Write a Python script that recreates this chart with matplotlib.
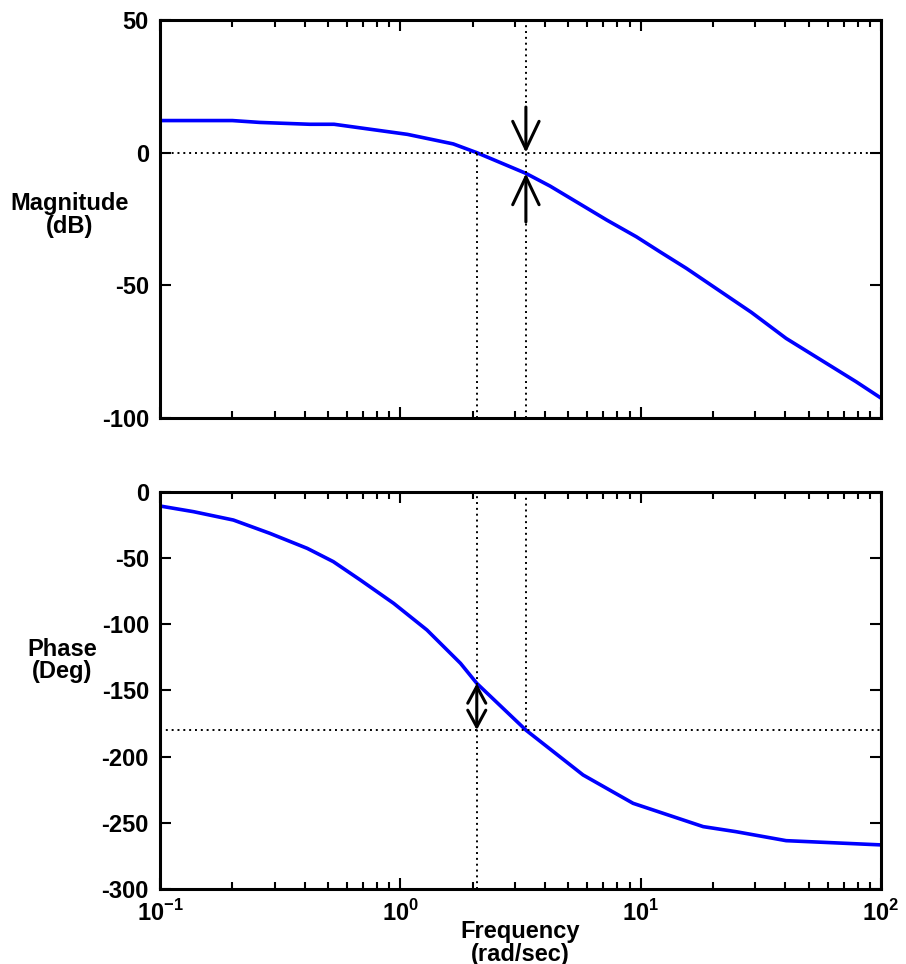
import matplotlib.pyplot as plt
from matplotlib.ticker import LogLocator, NullFormatter, FixedLocator

plt.rcParams['font.family'] = 'Liberation Sans'
plt.rcParams['font.weight'] = 'bold'
plt.rcParams['axes.unicode_minus'] = False
plt.rcParams['mathtext.fontset'] = 'custom'
plt.rcParams['mathtext.rm'] = 'Liberation Sans:bold'
plt.rcParams['mathtext.bf'] = 'Liberation Sans:bold'

# Magnitude curve
mag_freq = [0.1, 0.2, 0.26, 0.42, 0.53, 1.07, 1.66, 2.08, 3.33, 4.2, 7.23, 9.6,
            12.0, 15.5, 28.9, 40.3, 78.7, 100]
mag_db = [12.1, 12.1, 11.4, 10.7, 10.7, 6.9, 3.3, 0.0, -7.8, -12.6, -25.4, -31.7,
          -37.3, -43.6, -60.2, -70.0, -86.3, -92.5]

# Phase curve
ph_freq = [0.1, 0.138, 0.202, 0.286, 0.41, 0.526, 0.682, 0.938, 1.29, 1.78, 2.08,
           3.33, 5.76, 9.3, 18.2, 24.9, 40.3, 100]
ph_deg = [-10.8, -15.1, -21.4, -31.4, -42.8, -52.8, -66.7, -84.3, -104.4, -129.6,
          -144.7, -180.0, -213.9, -235.3, -252.9, -256.7, -263.5, -266.7]

# margins
w_gc = 2.08   # gain crossover
w_pc = 3.33   # phase crossover
gain_at_pc = -7.8
phase_at_gc = -144.7

fig = plt.figure(figsize=(9.06, 9.64), dpi=100)
ax1 = fig.add_axes([160 / 906, 1 - 418 / 964, 721 / 906, 398 / 964])
ax2 = fig.add_axes([160 / 906, 1 - 889 / 964, 721 / 906, 397.3 / 964])

blue = (0, 0, 1)
ax1.plot(mag_freq, mag_db, color=blue, lw=2.6)
ax2.plot(ph_freq, ph_deg, color=blue, lw=2.6)

dot = dict(color='black', ls=(0, (1, 2)), lw=1.4)
# top plot guides
ax1.axhline(0, **dot)
ax1.plot([w_gc, w_gc], [-100, 0], **dot)
ax1.axvline(w_pc, **dot)
# bottom plot guides
ax2.axhline(-180, **dot)
ax2.axvline(w_gc, **dot)
ax2.plot([w_pc, w_pc], [0, -180], **dot)

# gain margin arrows
arr = dict(arrowstyle='->,head_length=20,head_width=9.5', color='black', lw=2.2,
           mutation_scale=1, shrinkA=0, shrinkB=0)
ax1.annotate('', xy=(w_pc, 0), xytext=(w_pc, 17.2), arrowprops=arr)
ax1.annotate('', xy=(w_pc, gain_at_pc), xytext=(w_pc, -26.1), arrowprops=arr)
# phase margin arrow
arr2 = dict(arrowstyle='<->,head_length=12,head_width=6.5', color='black', lw=2.2,
            mutation_scale=1, shrinkA=0, shrinkB=0)
ax2.annotate('', xy=(w_gc, -180), xytext=(w_gc, phase_at_gc), arrowprops=arr2)

for ax in (ax1, ax2):
    ax.set_xscale('log')
    ax.set_xlim(0.1, 100)
    ax.xaxis.set_major_locator(FixedLocator([0.1, 1, 10, 100]))
    ax.xaxis.set_minor_locator(LogLocator(base=10, subs=range(2, 10)))
    ax.xaxis.set_minor_formatter(NullFormatter())
    ax.tick_params(which='both', direction='in', top=True, right=True,
                   labelsize=17, width=1.5, pad=8)
    ax.tick_params(which='major', length=8)
    ax.tick_params(which='minor', length=5)
    for s in ax.spines.values():
        s.set_linewidth(2.2)

ax1.set_ylim(-100, 50)
ax1.set_yticks([-100, -50, 0, 50])
ax1.set_xticklabels([])

ax2.set_ylim(-300, 0)
ax2.set_yticks([-300, -250, -200, -150, -100, -50, 0])
ax2.set_xticklabels([r'$10^{-1}$', r'$10^{0}$', r'$10^{1}$', r'$10^{2}$'])

ax1.set_ylabel('Magnitude\n(dB)', rotation=0, fontsize=17, fontweight='bold',
               ha='center', va='center', linespacing=0.95)
ax1.yaxis.set_label_coords(-0.125, 0.51)
ax2.set_ylabel('Phase\n(Deg)', rotation=0, fontsize=17, fontweight='bold',
               ha='center', va='center', linespacing=0.95)
ax2.yaxis.set_label_coords(-0.136, 0.576)
ax2.set_xlabel('Frequency\n(rad/sec)', fontsize=17, fontweight='bold',
               linespacing=0.95, labelpad=-4)

fig.savefig('out.png', dpi=100)
